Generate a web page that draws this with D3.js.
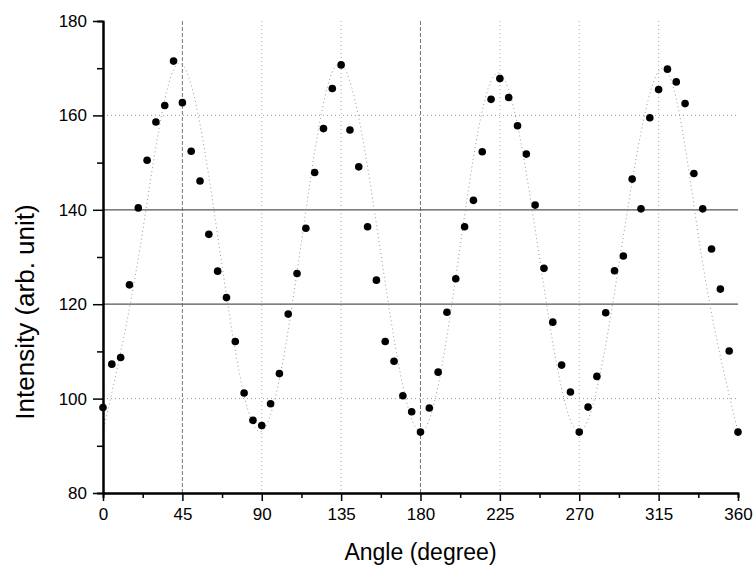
<!DOCTYPE html>
<html>
<head>
<meta charset="utf-8">
<script src="https://cdn.jsdelivr.net/npm/d3@7"></script>
<style>
  html, body { margin: 0; padding: 0; background: #fff; }
  svg { display: block; font-family: "Liberation Sans", Arial, sans-serif; }
</style>
</head>
<body>
<svg id="chart" width="756" height="568"></svg>
<script>
// ---- data ----
const angles = [0,5,10,15,20,25,30,35,40,45,50,55,60,65,70,75,80,85,90,95,100,105,110,115,120,125,130,135,140,145,150,155,160,165,170,175,180,185,190,195,200,205,210,215,220,225,230,235,240,245,250,255,260,265,270,275,280,285,290,295,300,305,310,315,320,325,330,335,340,345,350,355,360];
const intensity = [98.1,107.3,108.7,124.1,140.4,150.5,158.6,162.1,171.5,162.7,152.4,146.1,134.8,127.0,121.4,112.1,101.2,95.4,94.3,98.9,105.3,117.9,126.5,136.1,147.9,157.2,165.7,170.7,156.9,149.1,136.4,125.1,112.1,107.9,100.6,97.2,92.9,98.0,105.6,118.3,125.4,136.4,142.0,152.3,163.4,167.8,163.8,157.8,151.8,141.0,127.6,116.2,107.1,101.4,92.9,98.2,104.7,118.2,127.1,130.2,146.5,140.2,159.5,165.5,169.8,167.1,162.5,147.7,140.2,131.7,123.2,110.1,92.9];
// fitted curve (key points)
const fitAngles = [0,21,43,66,89,112,134,157,180,202,224,247,270,294,318,339,360];
const fitValues = [93,132,171,132,93,132,171,132,93,131,169,131,93,132,170,131,93];
const xTicks = [0,45,90,135,180,225,270,315,360];
const xMinor = [22.5,67.5,112.5,157.5,202.5,247.5,292.5,337.5];
const yTicks = [80,100,120,140,160,180];
const yMinor = [90,110,130,150,170];
const xGridVals = [45,90,135,180,225,270,315];
const yGridVals = [100,120,140,160];
const xTitle = "Angle (degree)";
const yTitle = "Intensity (arb. unit)";

// ---- layout ----
const svg = d3.select("#chart");
const L = 103, R = 738, T = 21, B = 493;
const x = d3.scaleLinear().domain([0,360]).range([L,R]);
const y = d3.scaleLinear().domain([80,180]).range([B,T]);

// gridlines
const strongX = new Set([45,180]);
const strongY = new Set([120,140]);
const grid = svg.append("g");
grid.selectAll("line.gx").data(xGridVals).join("line")
  .attr("x1", d => x(d)).attr("x2", d => x(d))
  .attr("y1", T).attr("y2", B)
  .attr("stroke", d => strongX.has(d) ? "#777" : "#aaa")
  .attr("stroke-width", 1)
  .attr("stroke-dasharray", d => strongX.has(d) ? "4,2" : "1,3");
grid.selectAll("line.gy").data(yGridVals).join("line")
  .attr("x1", L).attr("x2", R)
  .attr("y1", d => y(d)).attr("y2", d => y(d))
  .attr("stroke", d => strongY.has(d) ? "#555" : "#999")
  .attr("stroke-width", d => strongY.has(d) ? 1.2 : 1)
  .attr("stroke-dasharray", d => strongY.has(d) ? null : "1,3");

// fit curve
const fitLine = d3.line().x((d,i) => x(fitAngles[i])).y(d => y(d)).curve(d3.curveNatural);
svg.append("path").datum(fitValues)
  .attr("d", fitLine)
  .attr("fill", "none").attr("stroke", "#999")
  .attr("stroke-width", 1).attr("stroke-dasharray", "1,3");

// axes
const xAxis = svg.append("g").attr("transform", `translate(0,${B})`)
  .call(d3.axisBottom(x).tickValues(xTicks).tickSize(8).tickSizeOuter(0).tickPadding(7).tickFormat(d3.format("d")));
const xAxisMinor = svg.append("g").attr("transform", `translate(0,${B})`)
  .call(d3.axisBottom(x).tickValues(xMinor).tickSize(5).tickFormat(""));
const yAxis = svg.append("g").attr("transform", `translate(${L},0)`)
  .call(d3.axisLeft(y).tickValues(yTicks).tickSize(10).tickSizeOuter(0).tickPadding(6).tickFormat(d3.format("d")));
const yAxisMinor = svg.append("g").attr("transform", `translate(${L},0)`)
  .call(d3.axisLeft(y).tickValues(yMinor).tickSize(6).tickFormat(""));

[xAxis, yAxis, xAxisMinor, yAxisMinor].forEach(g => {
  g.selectAll(".domain").attr("stroke", "#000").attr("stroke-width", 2);
  g.selectAll(".tick line").attr("stroke", "#000").attr("stroke-width", 1.5);
  g.selectAll("text").attr("font-family", "Liberation Sans, Arial, sans-serif")
    .attr("font-size", 17).attr("fill", "#000");
});

// points
svg.append("g").selectAll("circle").data(intensity).join("circle")
  .attr("cx", (d,i) => x(angles[i]))
  .attr("cy", d => y(d))
  .attr("r", 3.8)
  .attr("fill", "#000");

// titles
svg.append("text").attr("x", (L+R)/2).attr("y", 560)
  .attr("text-anchor", "middle").attr("font-size", 23).attr("fill", "#000")
  .text(xTitle);
svg.append("text").attr("transform", "translate(34,312) rotate(-90)")
  .attr("text-anchor", "middle").attr("font-size", 26).attr("fill", "#000")
  .text(yTitle);
</script>
</body>
</html>
